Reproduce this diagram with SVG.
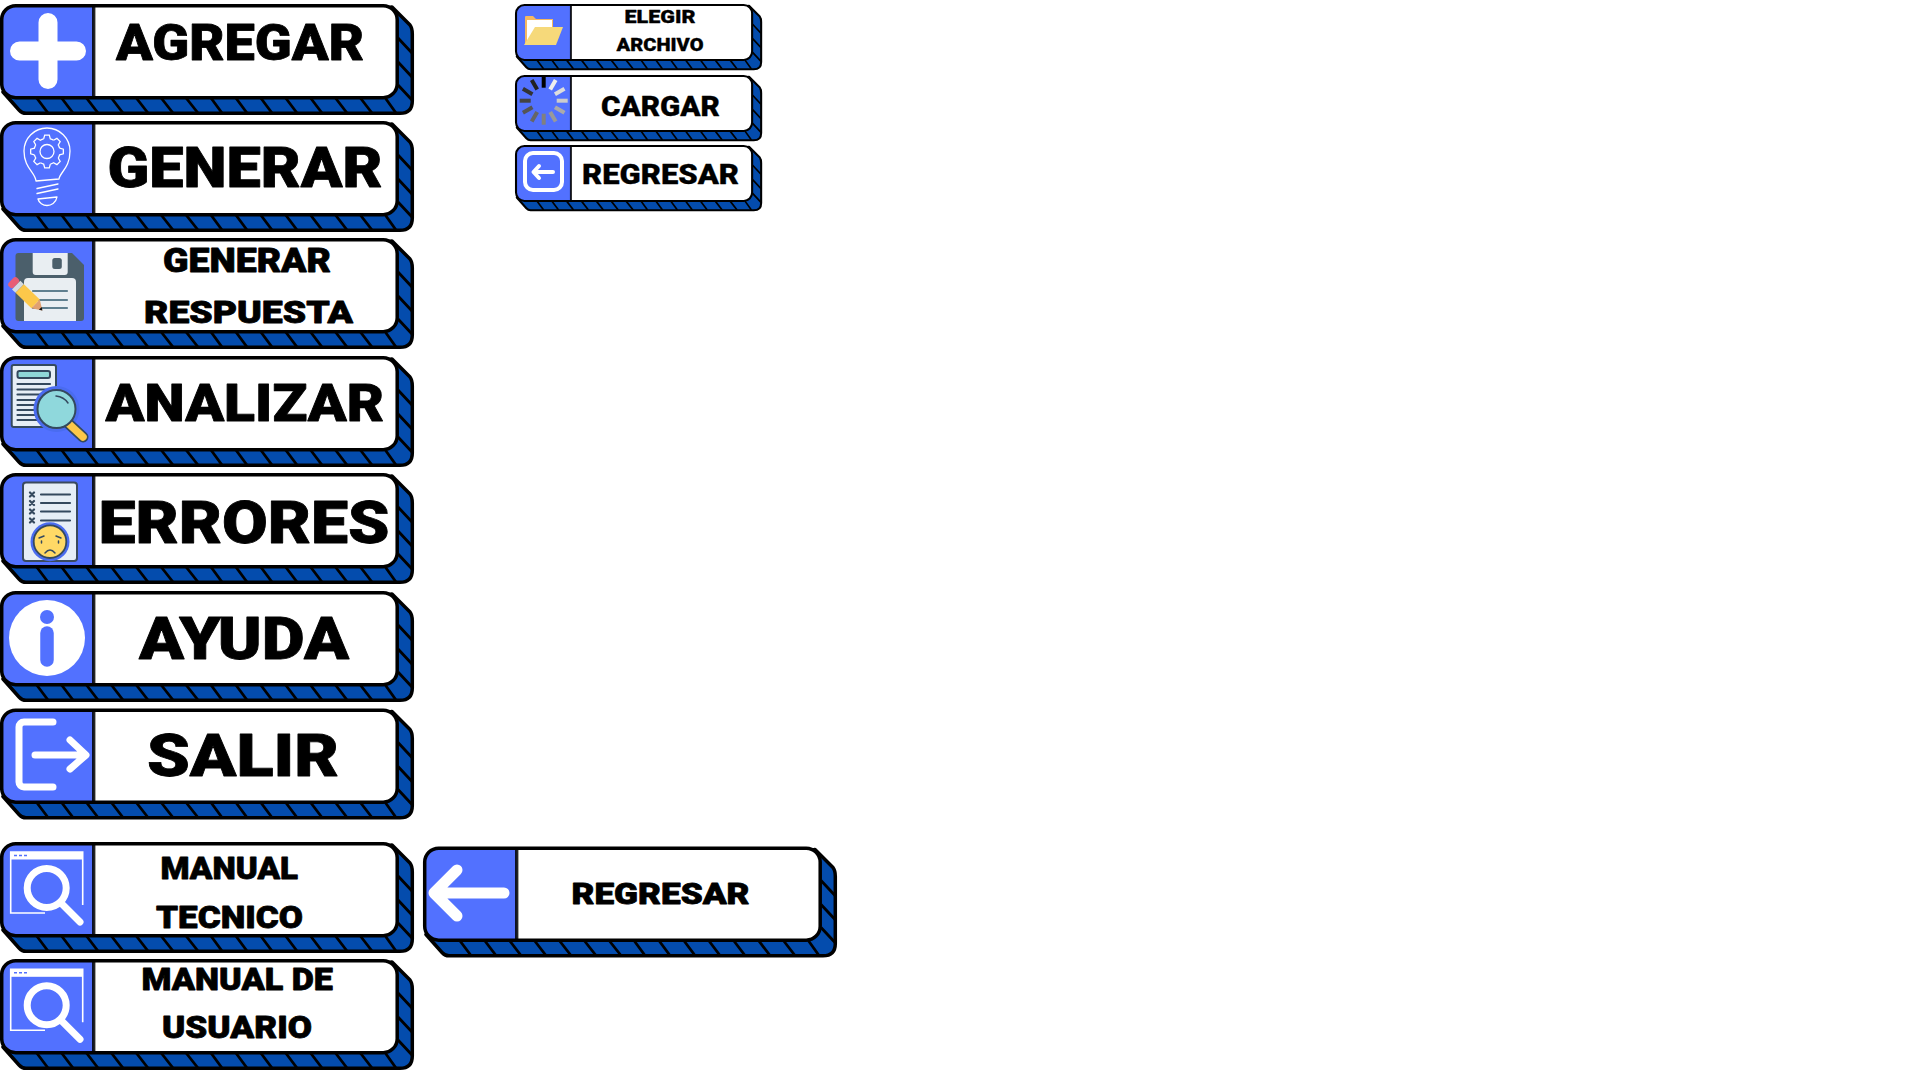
<svg xmlns="http://www.w3.org/2000/svg" width="1920" height="1080" viewBox="0 0 1920 1080">
<style>
.t{font-family:Roboto,"Liberation Sans",sans-serif;font-weight:900;fill:#000;stroke:#000;stroke-width:.8;stroke-linejoin:round}
.s{stroke-width:.3}
.w{fill:none;stroke:#fff;stroke-linecap:round;stroke-linejoin:round}
.d{fill:none;stroke:#34495e;stroke-linecap:round}
</style>
<defs>
<g id="base">
<path d="M392,3L410,21Q412.3,24 412.3,30V97Q412.3,109.3 400,109.3H26Q22,109.3 19,106L3,88Z" fill="#044cad" stroke="#000" stroke-width="3.5" stroke-linejoin="round"/>
<path d="M36.7,94L48,109M61.6,94L73,109M86.5,94L98,109M111.4,94L123,109M136.3,94L148,109M161.2,94L173,109M186.1,94L198,109M211,94L222,109M235.9,94L247,109M260.8,94L272,109M285.7,94L297,109M310.6,94L322,109M335.5,94L347,109M360.4,94L372,109M385.3,94L396,109M398,34L412,49M398,58L412,73M398,81L412,96" fill="none" stroke="#000" stroke-width="2.800"/>
<rect x="1.7" y="1.7" width="395.5" height="92" rx="14" fill="#fff"/>
<path d="M93.7,1.7H15.7A14,14 0 0 0 1.7,15.7V79.7A14,14 0 0 0 15.7,93.7H93.7Z" fill="#5271ff"/>
<path d="M93.7,1.7V93.7" stroke="#000" stroke-width="3.4" opacity=".85"/>
<rect x="1.7" y="1.7" width="395.5" height="92" rx="14" fill="none" stroke="#000" stroke-width="3.5"/>
</g>
<path id="tooth" d="M12.56-3.36L16.34-2.3V2.3L12.56,3.36A13,13 0 0 1 11.26,6.5" fill="none" stroke="#fff" stroke-width="1.3"/>
<g id="magwin">
<path d="M82.7,905V852H10.7V913H45" fill="none" stroke="#fff" stroke-width="1.6"/>
<rect x="10.7" y="852" width="72" height="7.5" fill="#fff"/>
<path d="M14,855.5H17M19,855.5H22M24,855.5H27" stroke="#5271ff" stroke-width="1.6"/>
<circle cx="46.7" cy="888" r="19.5" fill="#5271ff" stroke="#fff" stroke-width="7"/>
<path class="w" stroke-width="7" d="M61,903L80,922"/>
</g>
</defs>

<g id="connectors"></g>

<g id="btn-agregar">
<use href="#base" transform="translate(0,4)"/>
<path class="w" stroke-width="19" d="M19.5,51H76.5M48,22.5V79.5"/>
<text class="t" x="116" y="60" font-size="50" textLength="248" lengthAdjust="spacingAndGlyphs">AGREGAR</text>
</g>

<g id="btn-generar">
<use href="#base" transform="translate(0,121)"/>
<g transform="translate(47,151.5)">
<use href="#tooth"/><use href="#tooth" transform="rotate(45)"/><use href="#tooth" transform="rotate(90)"/><use href="#tooth" transform="rotate(135)"/><use href="#tooth" transform="rotate(180)"/><use href="#tooth" transform="rotate(225)"/><use href="#tooth" transform="rotate(270)"/><use href="#tooth" transform="rotate(315)"/>
<circle r="7" fill="none" stroke="#fff" stroke-width="1.3"/>
</g>
<path class="w" stroke-width="1.3" d="M36,181C35,172 24,168 24,151A23,23 0 0 1 70,151C70,168 60,172 59,179ZM37,188.500L58,184M37,193.500L58,189M38,199L57,197C56,203 51,205.500 47,205.500C43,205.500 39,203 38,199Z"/>
<text class="t" x="107.500" y="187" font-size="56" textLength="275" lengthAdjust="spacingAndGlyphs">GENERAR</text>
</g>

<g id="btn-generar-respuesta">
<use href="#base" transform="translate(0,238)"/>
<path d="M18.500,253H72L84,265V318A3,3 0 0 1 81,321H18.500A3,3 0 0 1 15.500,318V256A3,3 0 0 1 18.500,253Z" fill="#4b5f6b"/>
<path d="M32.700,253H67.700V272A3,3 0 0 1 64.700,275H35.700A3,3 0 0 1 32.700,272Z" fill="#e9eef2"/>
<rect x="52.300" y="258" width="9.500" height="11" rx="2.500" fill="#4b5f6b"/>
<path d="M24,321V282A4,4 0 0 1 28,278H72A4,4 0 0 1 76,282V321Z" fill="#e9eef2"/>
<path d="M33,291H67M33,300H67M33,308H67" stroke="#5f7f8f" stroke-width="2.200" stroke-linecap="round"/>
<g transform="translate(14,283) rotate(44)">
<rect x="-4" y="-6" width="7" height="12" rx="3" fill="#e85d75"/>
<rect x="3" y="-6" width="5" height="12" fill="#d5dbe0"/>
<rect x="8" y="-6" width="22" height="12" fill="#fcc84a"/>
<path d="M30-6L39.500,0L30,6Z" fill="#e0a070"/>
<path d="M36.500-1.900L39.500,0L36.500,1.900Z" fill="#111"/>
</g>
<text class="t" x="163" y="272" font-size="34" textLength="168" lengthAdjust="spacingAndGlyphs">GENERAR</text>
<text class="t" x="144" y="323" font-size="31" textLength="209" lengthAdjust="spacingAndGlyphs">RESPUESTA</text>
</g>

<g id="btn-analizar">
<use href="#base" transform="translate(0,356)"/>
<rect x="11.700" y="365" width="44.300" height="62" rx="2" fill="#e6eef6" stroke="#34495e" stroke-width="2"/>
<rect x="17.500" y="371" width="32.500" height="7" rx="2" fill="#8fd8d8" stroke="#34495e" stroke-width="2"/>
<path class="d" stroke-width="2.200" d="M17.500,384H50M17.500,389.500H50M17.500,394.500H50M17.500,400H50M17.500,405H50M17.500,410H50M17.500,415H50M17.500,420H50"/>
<circle cx="56.500" cy="409" r="23" fill="#4a6cf0"/>
<path d="M69,424L83,437" stroke="#34495e" stroke-width="11" stroke-linecap="round"/>
<path d="M69,424L83,437" stroke="#fcc84a" stroke-width="7.500" stroke-linecap="round"/>
<circle cx="56.500" cy="409" r="19" fill="#8fd8dc" stroke="#34495e" stroke-width="2"/>
<path class="d" stroke-width="1.500" d="M56,396Q64,397 68,403"/>
<text class="t" x="105.500" y="421" font-size="52" textLength="278.500" lengthAdjust="spacingAndGlyphs">ANALIZAR</text>
</g>

<g id="btn-errores">
<use href="#base" transform="translate(0,473)"/>
<rect x="23" y="482.500" width="54" height="78.500" rx="3" fill="#e6eef6" stroke="#3a4a5e" stroke-width="2"/>
<path class="d" stroke-width="2.200" d="M41,494.500H70M41,503H70M41,511.500H70M41,520.500H70"/>
<path class="d" stroke-width="2.200" d="M30,492.500L34,496.500M34,492.500L30,496.500M30,501L34,505M34,501L30,505M30,509.500L34,513.500M34,509.500L30,513.500M30,518.500L34,522.500M34,518.500L30,522.500"/>
<circle cx="50" cy="541.700" r="19.500" fill="#4a6cf0"/>
<circle cx="50" cy="541.700" r="16.300" fill="#ffd966" stroke="#34495e" stroke-width="1.800"/>
<path class="d" stroke-width="1.500" d="M39,538L44,536M61,538L56,536M41.500,541V543M58.500,541V543M45,553Q50,547 55,553"/>
<text class="t" x="98.500" y="542.500" font-size="60" textLength="291" lengthAdjust="spacingAndGlyphs">ERRORES</text>
</g>

<g id="btn-ayuda">
<use href="#base" transform="translate(0,591)"/>
<circle cx="47" cy="638" r="38" fill="#fff"/>
<circle cx="47" cy="617" r="7" fill="#5271ff"/>
<path d="M47,633V660" stroke="#5271ff" stroke-width="13.500" stroke-linecap="round"/>
<text class="t" x="139" y="658.500" font-size="60" textLength="210" lengthAdjust="spacingAndGlyphs">AYUDA</text>
</g>

<g id="btn-salir">
<use href="#base" transform="translate(0,708.500)"/>
<path class="w" stroke-width="7" d="M53,722H24A5,5 0 0 0 19,727V782A5,5 0 0 0 24,787H53M35,755H85M70,740L86,755L70,769"/>
<text class="t" x="147" y="775.500" font-size="60" textLength="192" lengthAdjust="spacingAndGlyphs">SALIR</text>
</g>

<g id="btn-manual-tecnico">
<use href="#base" transform="translate(0,842)"/>
<use href="#magwin"/>
<text class="t" x="160.500" y="879" font-size="32" textLength="137.500" lengthAdjust="spacingAndGlyphs">MANUAL</text>
<text class="t" x="156" y="928" font-size="32" textLength="147" lengthAdjust="spacingAndGlyphs">TECNICO</text>
</g>

<g id="btn-manual-usuario">
<use href="#base" transform="translate(0,959)"/>
<use href="#magwin" transform="translate(0,117.300)"/>
<text class="t" x="141.500" y="990" font-size="32" textLength="191.500" lengthAdjust="spacingAndGlyphs">MANUAL DE</text>
<text class="t" x="162" y="1037.500" font-size="32" textLength="150" lengthAdjust="spacingAndGlyphs">USUARIO</text>
</g>

<g id="btn-regresar-grande">
<use href="#base" transform="translate(423,846.500)"/>
<path class="w" stroke-width="11" d="M504,893H434M457,870L434,893L457,916"/>
<text class="t" x="571.500" y="903.500" font-size="30" textLength="178" lengthAdjust="spacingAndGlyphs">REGRESAR</text>
</g>

<g id="btn-elegir-archivo">
<use href="#base" transform="translate(515,4) scale(.597)"/>
<path d="M525,45V17A1,1 0 0 1 526,16H533L536,19H553V45Z" fill="#f5b861"/>
<rect x="527" y="20" width="25" height="20" fill="#fff"/>
<path d="M535,27H563L556,45H524Z" fill="#f6d97a"/>
<text class="t s" x="624.500" y="23" font-size="18" textLength="71" lengthAdjust="spacingAndGlyphs">ELEGIR</text>
<text class="t s" x="616.500" y="51" font-size="18" textLength="87" lengthAdjust="spacingAndGlyphs">ARCHIVO</text>
</g>

<g id="btn-cargar">
<use href="#base" transform="translate(515,75) scale(.597)"/>
<g transform="translate(543.700,100.700)" stroke-width="4">
<path d="M0-13V-24" stroke="#000"/>
<path d="M0-13V-24" stroke="#eee" transform="rotate(30)"/>
<path d="M0-13V-24" stroke="#ddd" transform="rotate(60)"/>
<path d="M0-13V-24" stroke="#ccc" transform="rotate(90)"/>
<path d="M0-13V-24" stroke="#aaa" transform="rotate(120)"/>
<path d="M0-13V-24" stroke="#999" transform="rotate(150)"/>
<path d="M0-13V-24" stroke="#808080" transform="rotate(180)"/>
<path d="M0-13V-24" stroke="#666" transform="rotate(210)"/>
<path d="M0-13V-24" stroke="#555" transform="rotate(240)"/>
<path d="M0-13V-24" stroke="#444" transform="rotate(270)"/>
<path d="M0-13V-24" stroke="#333" transform="rotate(300)"/>
<path d="M0-13V-24" stroke="#222" transform="rotate(330)"/>
</g>
<text class="t s" x="601" y="116" font-size="28" textLength="119" lengthAdjust="spacingAndGlyphs">CARGAR</text>
</g>

<g id="btn-regresar-chico">
<use href="#base" transform="translate(515,145) scale(.597)"/>
<rect x="525" y="153" width="37" height="37" rx="8" fill="none" stroke="#fff" stroke-width="4"/>
<path class="w" stroke-width="4" d="M553,172H534M539,166L533.500,172L539,178"/>
<text class="t s" x="582" y="184" font-size="28" textLength="157" lengthAdjust="spacingAndGlyphs">REGRESAR</text>
</g>
</svg>
